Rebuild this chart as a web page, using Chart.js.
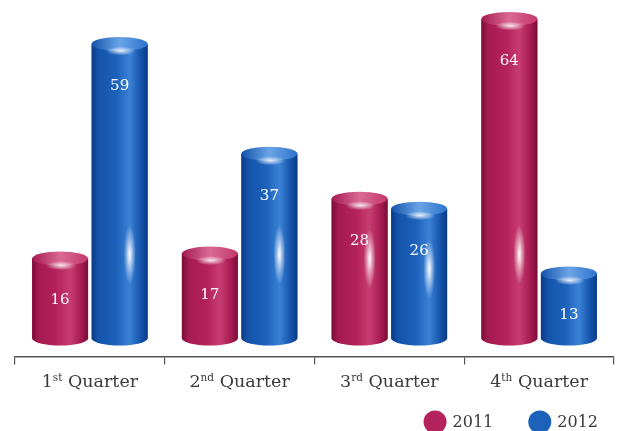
<!DOCTYPE html>
<html>
<head>
<meta charset="utf-8">
<script src="https://cdn.jsdelivr.net/npm/chart.js@4.4.1/dist/chart.umd.min.js"></script>
<style>
  html, body { margin: 0; padding: 0; background: #fff; }
  #wrap { width: 619px; height: 431px; }
</style>
</head>
<body>
<div id="wrap"><canvas id="quarterChart"></canvas></div>
<script>
// --- Data ---
const quarterNumbers = ['1', '2', '3', '4'];
const quarterSuffixes = ['st', 'nd', 'rd', 'th'];
const quarterLabels = quarterNumbers.map((n, i) => n + quarterSuffixes[i] + ' Quarter');
const seriesNames = ['2011', '2012'];
const values2011 = [16, 17, 28, 64];
const values2012 = [59, 37, 26, 13];

// --- Styles ---
const SERIF = "'DejaVu Serif', 'Liberation Serif', serif";
const TEXT_COLOR = '#3a3a3a';

const crimson = {
    base: '#b5235c', dark: '#7a0c37', mid: '#a51b51', light: '#c73d70',
    cap: '#c4386b', capLight: '#d96a94'
};
const royal = {
    base: '#1c62bb', dark: '#0a3a86', mid: '#1554ab', light: '#3a82d6',
    cap: '#2e74cc', capLight: '#6aa4e6'
};

// --- Helpers ---
function drawCylinder(ctx, x, top, base, width, c) {
    const rx = width / 2;
    const ry = 7;
    const left = x - rx;
    const right = x + rx;

    ctx.save();

    // body with the rounded bottom
    const g = ctx.createLinearGradient(left, 0, right, 0);
    g.addColorStop(0, c.dark);
    g.addColorStop(0.12, c.mid);
    g.addColorStop(0.45, c.base);
    g.addColorStop(0.68, c.light);
    g.addColorStop(0.88, c.mid);
    g.addColorStop(1, c.dark);
    ctx.beginPath();
    ctx.moveTo(left, top);
    ctx.lineTo(left, base);
    ctx.ellipse(x, base, rx, ry, 0, Math.PI, 0, true);
    ctx.lineTo(right, top);
    ctx.closePath();
    ctx.fillStyle = g;
    ctx.fill();

    // top cap
    const cg = ctx.createLinearGradient(left, 0, right, 0);
    cg.addColorStop(0, c.mid);
    cg.addColorStop(0.5, c.capLight);
    cg.addColorStop(1, c.cap);
    ctx.beginPath();
    ctx.ellipse(x, top, rx, ry, 0, 0, Math.PI * 2);
    ctx.fillStyle = cg;
    ctx.fill();

    // soft highlight just under the cap
    ctx.save();
    ctx.translate(x + 1, top + 7);
    ctx.scale(1, 0.3);
    let hg = ctx.createRadialGradient(0, 0, 0, 0, 0, 15);
    hg.addColorStop(0, 'rgba(255,255,255,0.85)');
    hg.addColorStop(1, 'rgba(255,255,255,0)');
    ctx.fillStyle = hg;
    ctx.beginPath();
    ctx.arc(0, 0, 15, 0, Math.PI * 2);
    ctx.fill();
    ctx.restore();

    // vertical glint on the taller bars
    if (base - top > 100) {
        const gy = Math.max(top + 60, base - 84);
        const gx = x + width * 0.18;
        ctx.save();
        ctx.translate(gx, gy);
        ctx.scale(1, 5);
        hg = ctx.createRadialGradient(0, 0, 0, 0, 0, 6);
        hg.addColorStop(0, 'rgba(255,255,255,1)');
        hg.addColorStop(0.45, 'rgba(255,255,255,0.5)');
        hg.addColorStop(1, 'rgba(255,255,255,0)');
        ctx.fillStyle = hg;
        ctx.beginPath();
        ctx.arc(0, 0, 6, 0, Math.PI * 2);
        ctx.fill();
        ctx.restore();
    }

    ctx.restore();
}

// draws each bar as a cylinder with its value inside
const cylinderPlugin = {
    id: 'cylinders',
    afterDatasetsDraw(chart) {
        const ctx = chart.ctx;
        chart.data.datasets.forEach((ds, di) => {
            const meta = chart.getDatasetMeta(di);
            meta.data.forEach((bar, i) => {
                const p = bar.getProps(['x', 'y', 'base', 'width'], true);
                drawCylinder(ctx, p.x, p.y, p.base, p.width, ds.cylinder);
                ctx.save();
                ctx.fillStyle = '#ffffff';
                ctx.font = '15px ' + SERIF;
                ctx.textAlign = 'center';
                ctx.textBaseline = 'middle';
                ctx.fillText(String(ds.data[i]), p.x, p.y + 42);
                ctx.restore();
            });
        });
    }
};

// category labels with ordinal superscripts
const quarterLabelPlugin = {
    id: 'quarterLabels',
    afterDraw(chart) {
        const ctx = chart.ctx;
        const xs = chart.scales.x;
        const baseY = xs.top + 31;
        const big = '17.5px ' + SERIF;
        const small = '10.5px ' + SERIF;
        ctx.save();
        ctx.fillStyle = TEXT_COLOR;
        ctx.textBaseline = 'alphabetic';
        ctx.textAlign = 'left';
        quarterNumbers.forEach((num, i) => {
            ctx.font = big;
            const wNum = ctx.measureText(num).width;
            const wRest = ctx.measureText(' Quarter').width;
            ctx.font = small;
            const wSup = ctx.measureText(quarterSuffixes[i]).width;
            const cx = xs.getPixelForValue(i);
            let x = cx - (wNum + wSup + wRest) / 2;
            ctx.font = big;
            ctx.fillText(num, x, baseY);
            x += wNum;
            ctx.font = small;
            ctx.fillText(quarterSuffixes[i], x, baseY - 6);
            x += wSup;
            ctx.font = big;
            ctx.fillText(' Quarter', x, baseY);
        });
        ctx.restore();
    }
};

// round-marker legend in the lower right
const seriesLegendPlugin = {
    id: 'seriesLegend',
    afterDraw(chart) {
        const ctx = chart.ctx;
        const r = 11.5;
        const gap = 6;
        const spacing = 35;
        const y = 422;
        ctx.save();
        ctx.font = '16px ' + SERIF;
        ctx.textBaseline = 'middle';
        ctx.textAlign = 'left';
        const widths = seriesNames.map(n => 2 * r + gap + ctx.measureText(n).width);
        let x = 598 - widths.reduce((a, b) => a + b, 0) - spacing * (seriesNames.length - 1);
        chart.data.datasets.forEach((ds, i) => {
            ctx.fillStyle = ds.backgroundColor;
            ctx.beginPath();
            ctx.arc(x + r, y, r, 0, Math.PI * 2);
            ctx.fill();
            ctx.fillStyle = TEXT_COLOR;
            ctx.fillText(seriesNames[i], x + 2 * r + gap, y + 1);
            x += widths[i] + spacing;
        });
        ctx.restore();
    }
};

// --- Chart ---
const canvas = document.getElementById('quarterChart');

new Chart(canvas, {
    type: 'bar',
    data: {
        labels: quarterLabels,
        datasets: [{
            label: seriesNames[0],
            data: values2011,
            backgroundColor: crimson.base,
            cylinder: crimson,
            borderWidth: 0,
            categoryPercentage: 0.795,
            barPercentage: 0.94
        }, {
            label: seriesNames[1],
            data: values2012,
            backgroundColor: royal.base,
            cylinder: royal,
            borderWidth: 0,
            categoryPercentage: 0.795,
            barPercentage: 0.94
        }]
    },
    options: {
        responsive: true,
        maintainAspectRatio: false,
        animation: false,
        layout: {
            padding: { top: 8, left: 15, right: 5, bottom: 33 }
        },
        scales: {
            y: {
                display: false,
                min: -3.6,
                max: 66.2
            },
            x: {
                grid: {
                    drawOnChartArea: false,
                    offset: true,
                    tickLength: 8,
                    color: '#555',
                    lineWidth: 1.2
                },
                border: {
                    color: '#555',
                    width: 1.5
                },
                ticks: {
                    color: 'rgba(0,0,0,0)',
                    font: { family: SERIF, size: 18 },
                    padding: 6
                }
            }
        },
        plugins: {
            legend: { display: false },
            tooltip: { enabled: false }
        }
    },
    plugins: [cylinderPlugin, quarterLabelPlugin, seriesLegendPlugin]
});
</script>
</body>
</html>
